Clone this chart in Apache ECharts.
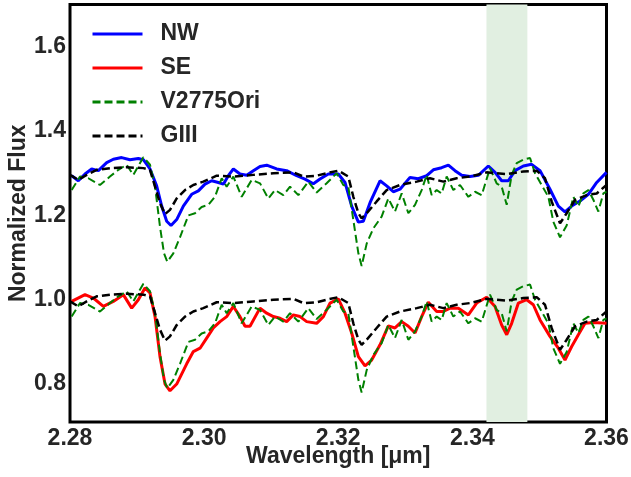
<!DOCTYPE html>
<html><head><meta charset="utf-8">
<script src="https://cdn.jsdelivr.net/npm/echarts@6/dist/echarts.min.js"></script>
<style>html,body{margin:0;padding:0;background:#fff}#c{width:631px;height:477px}</style>
</head><body><div id="c"></div>
<script>
const xTicks = [2.28, 2.30, 2.32, 2.34, 2.36];
const yTicks = [0.8, 1.0, 1.2, 1.4, 1.6];
const band = [2.3421, 2.3482];
const offsetUpper = 0.3;

const nwWl = [2.28025,2.28124,2.28224,2.28323,2.28423,2.28547,2.28646,2.28770,2.28895,2.29019,2.29094,2.29193,2.29292,2.29367,2.29442,2.29506,2.29591,2.29690,2.29814,2.29914,2.30013,2.30113,2.30212,2.30287,2.30361,2.30436,2.30535,2.30635,2.30734,2.30833,2.30933,2.31082,2.31231,2.31380,2.31504,2.31629,2.31728,2.31852,
2.32001,2.32101,2.32200,2.32300,2.32374,2.32474,2.32623,2.32722,2.32821,2.32921,2.33070,2.33194,2.33319,2.33418,2.33542,2.33642,2.33741,2.33841,2.33965,2.34089,2.34238,2.34338,2.34437,2.34536,2.34636,2.34760,2.34884,2.35009,2.35157,2.35282,2.35381,2.35481,2.35605,2.35730,2.35854,2.36];
const nwFlux = [1.294,1.282,1.298,1.310,1.306,1.325,1.333,1.337,1.332,1.335,1.332,1.310,1.270,1.222,1.186,1.176,1.190,1.222,1.250,1.258,1.274,1.282,1.278,1.274,1.294,1.310,1.298,1.295,1.306,1.316,1.319,1.310,1.306,1.294,1.286,1.275,1.286,1.298,
1.298,1.278,1.222,1.184,1.186,1.230,1.282,1.270,1.256,1.262,1.290,1.287,1.294,1.308,1.313,1.319,1.306,1.295,1.292,1.295,1.317,1.302,1.282,1.282,1.306,1.317,1.321,1.306,1.262,1.222,1.208,1.222,1.234,1.250,1.278,1.302];

const seWl = [2.28025,2.28224,2.28348,2.28497,2.28646,2.28795,2.28920,2.29019,2.29118,2.29193,2.29268,2.29342,2.29417,2.29491,2.29591,2.29740,2.29839,2.29939,2.30038,2.30137,2.30237,2.30336,2.30436,2.30535,2.30610,2.30684,2.30833,2.30933,2.31032,2.31132,2.31231,2.31330,2.31430,2.31529,2.31678,2.31778,2.31877,
2.32001,2.32101,2.32200,2.32300,2.32399,2.32498,2.32623,2.32747,2.32846,2.32946,2.33045,2.33145,2.33244,2.33343,2.33468,2.33567,2.33667,2.33791,2.33940,2.34064,2.34213,2.34338,2.34437,2.34512,2.34586,2.34686,2.34810,2.34909,2.35009,2.35157,2.35282,2.35381,2.35481,2.35580,2.35680,2.35804,2.36];
const seFlux = [0.996,1.012,1.004,0.984,0.996,1.012,0.980,1.000,1.028,1.016,0.960,0.865,0.800,0.784,0.800,0.848,0.877,0.885,0.909,0.933,0.948,0.960,0.984,0.960,0.937,0.937,0.980,0.968,0.960,0.956,0.948,0.964,0.960,0.948,0.944,0.960,0.992,
1.002,0.968,0.921,0.865,0.843,0.857,0.893,0.938,0.933,0.948,0.937,0.921,0.960,0.994,0.972,0.972,0.980,0.980,0.964,0.992,1.006,0.984,0.940,0.917,0.944,0.992,1.000,0.988,0.952,0.913,0.885,0.857,0.889,0.917,0.944,0.946,0.944];

const v2775Wl = [2.28025,2.28149,2.28273,2.28447,2.28596,2.28721,2.28845,2.28944,2.29094,2.29193,2.29268,2.29342,2.29402,2.29451,2.29541,2.29640,2.29765,2.29864,2.29963,2.30063,2.30162,2.30262,2.30336,2.30436,2.30560,2.30709,2.30833,2.30958,2.31057,2.31181,2.31281,2.31405,2.31554,2.31678,2.31827,
2.31976,2.32076,2.32150,2.32225,2.32300,2.32349,2.32424,2.32523,2.32647,2.32747,2.32846,2.32946,2.33045,2.33145,2.33244,2.33319,2.33393,2.33468,2.33542,2.33617,2.33716,2.33816,2.33940,2.34040,2.34139,2.34263,2.34362,2.34437,2.34512,2.34586,2.34661,2.34760,2.34860,2.34934,2.35033,2.35133,2.35207,2.35307,2.35406,2.35506,2.35580,2.35655,2.35730,2.35804,2.35879,2.35953,2.36];
const v2775Flux = [0.960,0.992,0.988,0.972,0.992,1.008,1.020,0.996,1.038,1.020,0.968,0.873,0.810,0.790,0.810,0.848,0.900,0.905,0.920,0.925,0.944,0.988,0.968,0.992,0.944,0.984,0.976,0.940,0.960,0.948,0.968,0.948,0.980,0.954,0.976,
1.000,0.972,0.968,0.889,0.810,0.780,0.833,0.869,0.897,0.940,0.909,0.952,0.905,0.925,0.960,0.996,0.948,0.960,0.952,0.992,0.960,0.972,0.944,0.956,0.948,1.012,0.976,0.968,0.925,0.996,1.024,1.032,1.036,1.000,0.972,0.944,0.885,0.848,0.876,0.944,0.921,0.952,0.960,0.937,0.909,0.952,0.956];

const giiiWl = [2.28,2.28124,2.28249,2.28398,2.28596,2.28845,2.29094,2.29193,2.29268,2.29342,2.29417,2.29491,2.29591,2.29715,2.29839,2.29988,2.30187,2.30436,2.30734,2.31032,2.31330,2.31480,2.31678,2.31827,
2.32001,2.32150,2.32225,2.32300,2.32349,2.32424,2.32573,2.32722,2.32921,2.33170,2.33368,2.33567,2.33766,2.33965,2.34213,2.34512,2.34760,2.34959,2.35083,2.35182,2.35307,2.35406,2.35531,2.35705,2.35854,2.36];
const giiiFlux = [0.996,0.984,0.996,1.008,1.012,1.014,1.012,1.008,0.968,0.929,0.903,0.913,0.940,0.960,0.972,0.980,0.994,0.992,0.996,1.000,1.002,0.992,0.994,1.000,
1.006,0.992,0.944,0.905,0.893,0.905,0.933,0.960,0.972,0.980,0.988,0.980,0.988,0.992,1.002,0.998,1.004,1.006,0.988,0.933,0.881,0.905,0.937,0.948,0.952,0.972];

function pairs(wl, fl, off) { return wl.map((w, i) => [w, fl[i] + (off || 0)]); }

const FONT = "'Liberation Sans', Arial, sans-serif";
const TXT = '#262626';
const FS = 23;
const chart = echarts.init(document.getElementById('c'), null, {renderer: 'canvas'});

const greenStyle = {color: '#008000', width: 2, type: [8, 4]};
const blackStyle = {color: '#000000', width: 2.5, type: [8, 4]};

chart.setOption({
  animation: false,
  backgroundColor: '#ffffff',
  grid: {left: 70, right: 24.5, top: 4.5, bottom: 55, containLabel: false, outerBoundsMode: 'none',
         show: true, borderColor: '#000', borderWidth: 3, backgroundColor: 'transparent'},
  legend: {
    data: ['NW', 'SE', 'V2775Ori', 'GIII'],
    orient: 'vertical', left: 91, top: 22.5, padding: 0,
    itemWidth: 50, itemHeight: 14, itemGap: 11,
    itemStyle: {opacity: 0},
    lineStyle: {width: 3},
    textStyle: {fontFamily: FONT, fontSize: FS, fontWeight: 'bold', color: TXT, padding: [0, 0, 0, 13]}
  },
  xAxis: {
    type: 'value', min: 2.28, max: 2.36,
    axisLine: {show: false}, axisTick: {show: false}, splitLine: {show: false},
    axisLabel: {customValues: xTicks, formatter: v => v.toFixed(2), margin: 5, fontFamily: FONT, fontSize: FS, fontWeight: 'bold', color: TXT},
    name: 'Wavelength [μm]', nameLocation: 'middle', nameGap: 23, nameMoveOverlap: false,
    nameTextStyle: {fontFamily: FONT, fontSize: FS, fontWeight: 'bold', color: TXT}
  },
  yAxis: {
    type: 'value', min: 0.71, max: 1.70,
    axisLine: {show: false}, axisTick: {show: false}, splitLine: {show: false},
    axisLabel: {customValues: yTicks, formatter: v => v.toFixed(1), margin: 4, fontFamily: FONT, fontSize: FS, fontWeight: 'bold', color: TXT},
    name: 'Normalized Flux', nameLocation: 'middle', nameGap: 40, nameRotate: 90, nameMoveOverlap: false,
    nameTextStyle: {fontFamily: FONT, fontSize: FS, fontWeight: 'bold', color: TXT}
  },
  series: [
    {type: 'line', data: [], z: 1, silent: true,
     markArea: {silent: true, itemStyle: {color: '#e1efe1'}, data: [[{xAxis: band[0]}, {xAxis: band[1]}]]}},
    {name: 'NW', type: 'line', data: pairs(nwWl, nwFlux), symbol: 'none', lineStyle: {color: '#0000ff', width: 3}, itemStyle: {color: '#0000ff'}, z: 3},
    {name: 'SE', type: 'line', data: pairs(seWl, seFlux), symbol: 'none', lineStyle: {color: '#ff0000', width: 3}, itemStyle: {color: '#ff0000'}, z: 3},
    {name: 'V2775Ori', type: 'line', data: pairs(v2775Wl, v2775Flux, offsetUpper), symbol: 'none', lineStyle: greenStyle, itemStyle: {color: '#008000'}, z: 4},
    {name: 'V2775Ori', type: 'line', data: pairs(v2775Wl, v2775Flux), symbol: 'none', lineStyle: greenStyle, itemStyle: {color: '#008000'}, z: 4},
    {name: 'GIII', type: 'line', data: pairs(giiiWl, giiiFlux, offsetUpper), symbol: 'none', lineStyle: blackStyle, itemStyle: {color: '#000'}, z: 5},
    {name: 'GIII', type: 'line', data: pairs(giiiWl, giiiFlux), symbol: 'none', lineStyle: blackStyle, itemStyle: {color: '#000'}, z: 5}
  ]
});
</script>
</body></html>
